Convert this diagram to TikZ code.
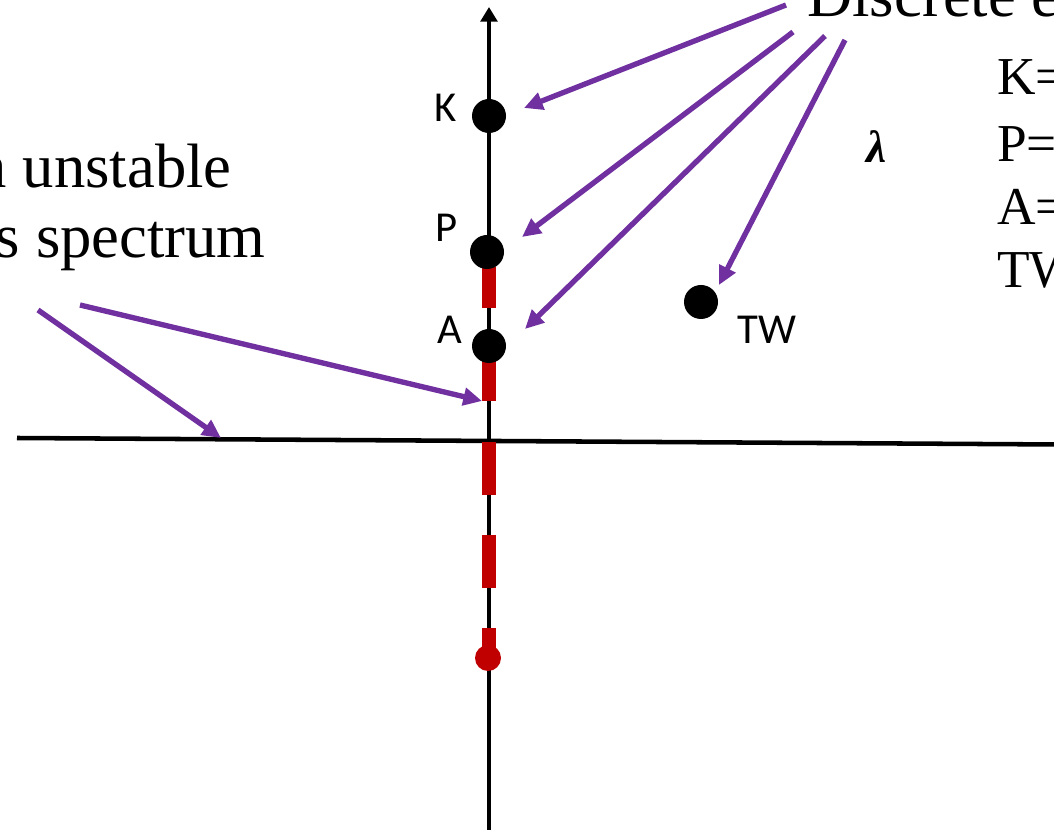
\documentclass[tikz,border=0pt]{standalone}
\usepackage{fontspec}
\setmainfont{Liberation Serif}
\newfontfamily\calib{Carlito}
\newfontfamily\lamfont[BoldItalicFont={Liberation Serif Bold Italic}]{Liberation Serif}
\usetikzlibrary{arrows.meta}
\definecolor{purp}{HTML}{7030A0}
\definecolor{redd}{HTML}{C00000}
\begin{document}
\begin{tikzpicture}[x=0.75pt,y=-0.75pt,
  axis/.style={line width=3.4pt},
  parrow/.style={draw=purp,line width=4pt,-{Triangle[length=14pt,width=13pt]}},
  redseg/.style={draw=redd,line width=10.5pt},
  eig/.style={circle,fill=black,minimum size=25.5pt,inner sep=0pt},
  lab/.style={font=\calib\fontsize{32}{38}\selectfont,inner sep=0pt},
  big/.style={font=\fontsize{47}{56}\selectfont,inner sep=0pt},
  mid/.style={font=\fontsize{40}{48}\selectfont,inner sep=0pt}]
\useasboundingbox (0,0) rectangle (1054,830);
\clip (0,0) rectangle (1054,830);
% axes
\coordinate (vb) at (489,840);
\coordinate (vt) at (489,7);
\draw[axis,-{Triangle[length=11pt,width=12.5pt]}] (vb) -- (vt);
\coordinate (hl) at (17,438);
\coordinate (hr) at (1060,444.5);
\draw[axis] (hl) -- (hr);
% red continuous spectrum
\draw[redseg] (489,267) -- (489,308);
\draw[redseg] (489,361) -- (489,401);
\draw[redseg] (489,442) -- (489,495);
\draw[redseg] (489,535) -- (489,588);
\draw[redseg] (489,628) -- (489,652);
\node[circle,fill=redd,minimum size=19.5pt,inner sep=0pt] (rdot) at (488,658) {};
% eigenvalues
\node[eig] (dotK) at (489,116) {};
\node[eig] (dotP) at (487,252) {};
\node[eig] (dotA) at (489,346) {};
\node[eig] (dotTW) at (701,302) {};
\node[lab] (labK) at (446,108) {K};
\node[lab] (labP) at (447,228) {P};
\node[lab] (labA) at (450,330) {A};
\node[lab] (labTW) at (767,330) {TW};
% texts
\node[big,anchor=base west] (disc) at (807,17) {Discrete e};
\node[big,anchor=base east] (unst) at (232,188) {n unstable};
\node[big,anchor=base east] (spec) at (266,258) {s spectrum};
\node[mid,anchor=base west] (kk) at (997,95) {K=};
\node[mid,anchor=base west] (pp) at (997,162) {P=};
\node[mid,anchor=base west] (aa) at (997,225) {A=};
\node[mid,anchor=base west] (tw) at (997,288) {TW};
\node[font=\lamfont\fontsize{34}{40}\selectfont\bfseries\itshape,inner sep=0pt,anchor=base] (lam) at (877,163) {λ};
% arrows
\coordinate (s1) at (786,5);   \coordinate (t1) at (524,108);
\coordinate (s2) at (793,32);  \coordinate (t2) at (522,237);
\coordinate (s3) at (825,36);  \coordinate (t3) at (525,329);
\coordinate (s4) at (845,40);  \coordinate (t4) at (719,285);
\coordinate (s5) at (80,305);  \coordinate (t5) at (482,401);
\coordinate (s6) at (38,310);  \coordinate (t6) at (221,438);
\draw[parrow] (s1) -- (t1);
\draw[parrow] (s2) -- (t2);
\draw[parrow] (s3) -- (t3);
\draw[parrow] (s4) -- (t4);
\draw[parrow] (s5) -- (t5);
\draw[parrow] (s6) -- (t6);
\end{tikzpicture}
\end{document}
